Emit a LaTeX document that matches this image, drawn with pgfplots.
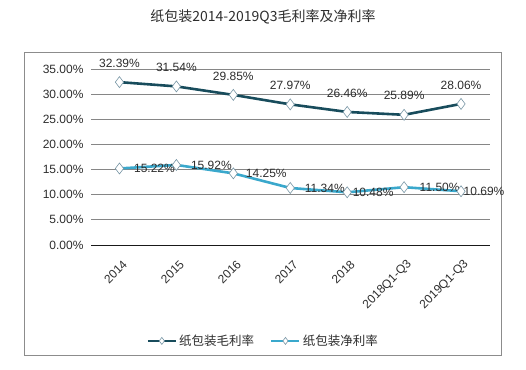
\documentclass[border=0pt]{standalone}
\usepackage{pgfplots}
\pgfplotsset{compat=1.18}
\usepackage{pgfplotstable}
\usepackage{fontspec}
\setmainfont{Liberation Sans}
\newfontfamily\cjk{Noto Sans CJK SC}

\definecolor{gross}{RGB}{24,76,92}
\definecolor{net}{RGB}{58,168,204}
\definecolor{mk}{RGB}{120,150,165}
\definecolor{txt}{RGB}{45,45,45}
\definecolor{framec}{RGB}{140,140,140}
\definecolor{gridc}{RGB}{134,134,134}

\pgfplotstableread{
x y dx
0 32.39 0
1 31.54 0
2 29.85 0
3 27.97 0
4 26.46 0
5 25.89 0
6 28.06 0
}\grossdata

\pgfplotstableread{
x y dx
0 15.22 11
1 15.92 11
2 14.25 9
3 11.34 11
4 10.48 2
5 11.50 12
6 10.69 -1
}\netdata

\begin{document}
\begin{tikzpicture}[x=1pt,y=1pt]
\useasboundingbox (0,0) rectangle (526,-369);
\draw[framec, line width=0.9pt] (24,-52) rectangle (501,-355);
\node[txt, font=\cjk\fontsize{14}{16}\selectfont] at (263,-17) {纸包装2014-2019Q3毛利率及净利率};
\begin{axis}[
  at={(91pt,-245pt)}, anchor=south west,
  scale only axis, width=398.5pt, height=176pt,
  xmin=-0.5, xmax=6.5, ymin=0, ymax=35,
  clip=false,
  axis line style={draw=none},
  major tick length=0pt,
  ymajorgrids,
  grid style={gridc, line width=0.8pt},
  ytick={0,5,...,35},
  yticklabel={\pgfmathprintnumber[fixed,fixed zerofill,precision=2]{\tick}\%},
  /pgf/number format/assume math mode=true,
  extra y ticks={0},
  extra y tick labels={},
  extra y tick style={grid style={black!90, line width=1pt}},
  xtick={0,...,6},
  xticklabels={2014,2015,2016,2017,2018,2018Q1-Q3,2019Q1-Q3},
  xticklabel style={xshift=8pt, yshift=-15pt, rotate=45, anchor=east},
  tick label style={txt, font=\fontsize{12}{14}\selectfont},
  yticklabel style={xshift=-4pt},
  legend columns=2,
  legend style={at={(0.432,-0.545)}, anchor=center, draw=none, fill=none,
    font=\cjk\fontsize{12.5}{14}\selectfont, text=txt,
    /tikz/every even column/.append style={column sep=14pt}},
  legend image code/.code={\draw[mark repeat=2,mark phase=2,#1,mark size=3.5pt] plot coordinates {(0pt,0pt) (14pt,0pt) (28pt,0pt)};},
  nodes near coords={\pgfmathprintnumber[fixed,fixed zerofill,precision=2]{\pgfplotspointmeta}\%},
  nodes near coords style={txt, font=\fontsize{12}{14}\selectfont},
  visualization depends on={\thisrow{dx} \as \dx},
]
\addplot[gross, line width=2.6pt, mark=diamond*, mark size=5.5pt,
  mark options={fill=white, draw=mk, line width=0.6pt},
  nodes near coords style={anchor=center, yshift=19pt}]
  table[x=x,y=y] {\grossdata};
\addlegendentry{纸包装毛利率}
\addplot[net, line width=2.6pt, mark=diamond*, mark size=5.5pt,
  mark options={fill=white, draw=mk, line width=0.6pt},
  nodes near coords style={anchor=west, xshift=\dx pt}]
  table[x=x,y=y] {\netdata};
\addlegendentry{纸包装净利率}
\end{axis}
\end{tikzpicture}
\end{document}
